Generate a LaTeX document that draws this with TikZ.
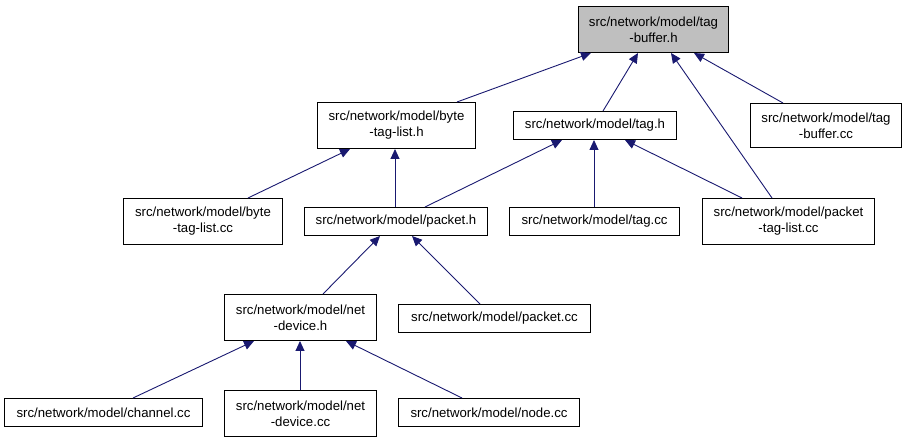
\documentclass[tikz,border=0pt]{standalone}
\usepackage{fontspec}
\setmainfont{Liberation Sans}
\usetikzlibrary{arrows.meta}
\definecolor{edgeblue}{HTML}{191970}
\definecolor{rootgray}{HTML}{BFBFBF}
\begin{document}
\begin{tikzpicture}[x=1pt,y=-1pt,
  box/.style={draw=black, line width=1pt, anchor=north west, inner sep=0pt, align=center,
    font=\fontsize{13.2}{16}\selectfont},
  dep/.style={draw=edgeblue, line width=0.9pt, -{Triangle[length=10pt,width=9pt]}}]
\useasboundingbox (0,0) rectangle (905,443);
\newcommand{\bx}[6]{\node[box, minimum width={#4-#2}, minimum height={#5-#3}, #6] (#1) at (#2,#3) {};}
\node[box, fill=rootgray, minimum width=150pt, minimum height=46pt] (tbh) at (578,6) {src/network/model/tag\\-buffer.h};
\node[box, minimum width=158pt, minimum height=46pt] (btlh) at (317,102) {src/network/model/byte\\-tag-list.h};
\node[box, minimum width=163pt, minimum height=28pt] (tagh) at (513,111) {src/network/model/tag.h};
\node[box, minimum width=151pt, minimum height=44pt] (tbcc) at (750,103) {src/network/model/tag\\-buffer.cc};
\node[box, minimum width=159pt, minimum height=46pt] (btlcc) at (123,198) {src/network/model/byte\\-tag-list.cc};
\node[box, minimum width=183pt, minimum height=28pt] (pkth) at (304,207) {src/network/model/packet.h};
\node[box, minimum width=170pt, minimum height=28pt] (tagcc) at (509,207) {src/network/model/tag.cc};
\node[box, minimum width=172pt, minimum height=46pt] (ptlcc) at (702,198) {src/network/model/packet\\-tag-list.cc};
\node[box, minimum width=152pt, minimum height=46pt] (ndh) at (224,294) {src/network/model/net\\-device.h};
\node[box, minimum width=192pt, minimum height=28pt] (pktcc) at (398,304) {src/network/model/packet.cc};
\node[box, minimum width=198pt, minimum height=28pt] (chcc) at (4,398) {src/network/model/channel.cc};
\node[box, minimum width=152pt, minimum height=46pt] (ndcc) at (224,390) {src/network/model/net\\-device.cc};
\node[box, minimum width=181pt, minimum height=28pt] (nodecc) at (398,398) {src/network/model/node.cc};

\draw[dep] ([xshift=140pt]btlh.north west) -- ([xshift=13pt]tbh.south west);
\draw[dep] ([xshift=90pt]tagh.north west) -- ([xshift=60pt]tbh.south west);
\draw[dep] ([xshift=70pt]ptlcc.north west) -- ([xshift=93pt]tbh.south west);
\draw[dep] ([xshift=33pt]tbcc.north west) -- ([xshift=116pt]tbh.south west);
\draw[dep] ([xshift=125pt]btlcc.north west) -- ([xshift=33pt]btlh.south west);
\draw[dep] ([xshift=91pt]pkth.north west) -- ([xshift=78pt]btlh.south west);
\draw[dep] ([xshift=121pt]pkth.north west) -- ([xshift=49pt]tagh.south west);
\draw[dep] ([xshift=85pt]tagcc.north west) -- ([xshift=81pt]tagh.south west);
\draw[dep] ([xshift=40pt]ptlcc.north west) -- ([xshift=112pt]tagh.south west);
\draw[dep] ([xshift=99pt]ndh.north west) -- ([xshift=76pt]pkth.south west);
\draw[dep] ([xshift=82pt]pktcc.north west) -- ([xshift=108pt]pkth.south west);
\draw[dep] ([xshift=129pt]chcc.north west) -- ([xshift=30pt]ndh.south west);
\draw[dep] ([xshift=76pt]ndcc.north west) -- ([xshift=76pt]ndh.south west);
\draw[dep] ([xshift=64pt]nodecc.north west) -- ([xshift=122pt]ndh.south west);
\end{tikzpicture}
\end{document}
